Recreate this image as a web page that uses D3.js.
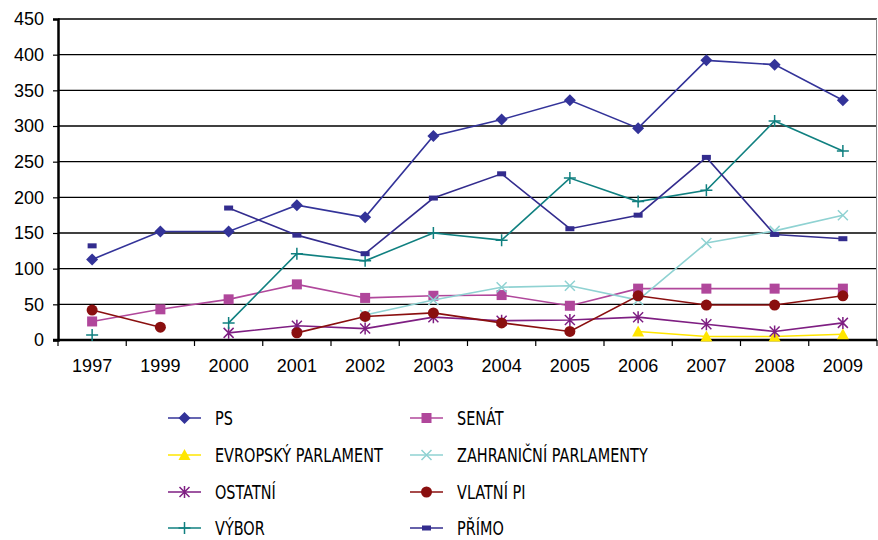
<!DOCTYPE html>
<html>
<head>
<meta charset="utf-8">
<script src="https://cdn.jsdelivr.net/npm/d3@7"></script>
<style>
  body { margin: 0; background: #fff; }
  svg { display: block; }
  .axis text { font-family: "Liberation Sans", Arial, sans-serif; font-size: 18px; fill: #000; }
  .legend text { font-family: "DejaVu Sans", sans-serif; font-size: 19px; fill: #000; }
</style>
</head>
<body>
<svg id="chart"></svg>
<script>
// line chart with markers, years on x, counts on y

var width = 878;
var height = 540;

// DATA (null = no value that year)
var years = ["1997", "1999", "2000", "2001", "2002", "2003", "2004", "2005", "2006", "2007", "2008", "2009"];
var yTicks = [0, 50, 100, 150, 200, 250, 300, 350, 400, 450];

var ps          = [113, 152, 152, 189, 172, 286, 309, 336, 297, 392, 386, 336];
var senat       = [26, 43, 57, 78, 59, 62, 63, 48, 72, 72, 72, 72];
var evropsky    = [null, null, null, null, null, null, null, null, 12, 5, 5, 8];
var zahranicni  = [null, null, null, null, 35, 56, 74, 76, 56, 136, 153, 175];
var ostatni     = [null, null, 10, 20, 16, 32, 27, 28, 32, 22, 12, 24];
var vlastni     = [42, 18, null, 10, 33, 38, 24, 12, 62, 49, 49, 62];
var vybor       = [7, null, 24, 121, 111, 150, 140, 227, 194, 210, 307, 265];
var primo       = [132, null, 185, 147, 121, 199, 233, 156, 175, 256, 148, 142];

// series in drawing order (later ones on top)
var series = [
    { name: "PS", values: ps, color: "#333399", marker: "diamond" },
    { name: "SENÁT", values: senat, color: "#b0479b", marker: "square" },
    { name: "EVROPSKÝ PARLAMENT", values: evropsky, color: "#ffe600", marker: "triangle" },
    { name: "ZAHRANIČNÍ PARLAMENTY", values: zahranicni, color: "#8fd2d2", marker: "x" },
    { name: "OSTATNÍ", values: ostatni, color: "#7e1e82", marker: "asterisk" },
    { name: "VLATNÍ PI", values: vlastni, color: "#8a0f0f", marker: "circle" },
    { name: "VÝBOR", values: vybor, color: "#108080", marker: "plus" },
    { name: "PŘÍMO", values: primo, color: "#332c8e", marker: "dash" }
];

// plot area
var plot = { left: 58, right: 877, top: 19, bottom: 340 };

var svg = d3.select("#chart")
    .attr("width", width)
    .attr("height", height);

// SCALES
var x = d3.scaleBand()
    .domain(years)
    .range([plot.left, plot.right]);

var y = d3.scaleLinear()
    .domain([0, 450])
    .range([plot.bottom, plot.top]);

// GRID
svg.append("g").selectAll("line")
    .data(yTicks.filter(d => d > 0))
    .enter().append("line")
    .attr("x1", plot.left)
    .attr("x2", plot.right)
    .attr("y1", d => y(d))
    .attr("y2", d => y(d))
    .style("stroke", "#000")
    .style("stroke-width", "1.4px");

// right border
svg.append("line")
    .attr("x1", plot.right - 0.5).attr("x2", plot.right - 0.5)
    .attr("y1", y(450)).attr("y2", y(0))
    .style("stroke", "#888").style("stroke-width", "1px");

// AXES
var yAxis = svg.append("g")
    .attr("class", "axis")
    .attr("transform", "translate(" + plot.left + ",0)")
    .call(d3.axisLeft(y).tickValues(yTicks).tickSize(5).tickPadding(9));
yAxis.select(".domain").style("stroke-width", "2.5px");
yAxis.selectAll(".tick line").style("stroke-width", "1.2px");

var xAxis = svg.append("g")
    .attr("class", "axis")
    .attr("transform", "translate(0," + plot.bottom + ")")
    .call(d3.axisBottom(x).tickSize(0).tickPadding(19));
xAxis.select(".domain").remove();

svg.append("line")
    .attr("x1", plot.left - 5).attr("x2", plot.right)
    .attr("y1", y(0)).attr("y2", y(0))
    .style("stroke", "#000").style("stroke-width", "2.5px");

// tick marks at category boundaries
svg.append("g").selectAll("line")
    .data(years.concat(["end"]))
    .enter().append("line")
    .attr("x1", d => d === "end" ? plot.right : x(d))
    .attr("x2", d => d === "end" ? plot.right : x(d))
    .attr("y1", y(0))
    .attr("y2", y(0) + 6)
    .style("stroke", "#000")
    .style("stroke-width", "1.2px");

// MARKERS
function drawMarker(g, type, color, cx, cy) {
    var s = 5;
    if (type === "diamond") {
        g.append("path").attr("d", "M" + cx + "," + (cy - 6) + "L" + (cx + 6) + "," + cy + "L" + cx + "," + (cy + 6) + "L" + (cx - 6) + "," + cy + "Z")
            .style("fill", color);
    } else if (type === "square") {
        g.append("rect").attr("x", cx - s).attr("y", cy - s).attr("width", 2 * s).attr("height", 2 * s)
            .style("fill", color);
    } else if (type === "triangle") {
        g.append("path").attr("d", "M" + cx + "," + (cy - 6) + "L" + (cx + 6) + "," + (cy + 5) + "L" + (cx - 6) + "," + (cy + 5) + "Z")
            .style("fill", color);
    } else if (type === "circle") {
        g.append("circle").attr("cx", cx).attr("cy", cy).attr("r", 5.5).style("fill", color);
    } else if (type === "x") {
        g.append("path").attr("d", "M" + (cx - s) + "," + (cy - s) + "L" + (cx + s) + "," + (cy + s) + "M" + (cx + s) + "," + (cy - s) + "L" + (cx - s) + "," + (cy + s))
            .style("stroke", color).style("stroke-width", "1.5px");
    } else if (type === "asterisk") {
        g.append("path").attr("d", "M" + (cx - s) + "," + (cy - s) + "L" + (cx + s) + "," + (cy + s) + "M" + (cx + s) + "," + (cy - s) + "L" + (cx - s) + "," + (cy + s) + "M" + cx + "," + (cy - 6) + "L" + cx + "," + (cy + 6))
            .style("stroke", color).style("stroke-width", "1.5px");
    } else if (type === "plus") {
        g.append("path").attr("d", "M" + (cx - 6) + "," + cy + "L" + (cx + 6) + "," + cy + "M" + cx + "," + (cy - 6) + "L" + cx + "," + (cy + 6))
            .style("stroke", color).style("stroke-width", "1.5px");
    } else if (type === "dash") {
        g.append("rect").attr("x", cx - 4.5).attr("y", cy - 2.5).attr("width", 9).attr("height", 5)
            .style("fill", color);
    }
}

// LINES
var line = d3.line()
    .defined(d => d.v !== null)
    .x(d => x(d.year) + x.bandwidth() / 2)
    .y(d => y(d.v));

series.forEach(function(s) {
    var pts = years.map((yr, i) => ({ year: yr, v: s.values[i] }));
    var g = svg.append("g");
    g.append("path")
        .datum(pts)
        .attr("d", line)
        .style("fill", "none")
        .style("stroke", s.color)
        .style("stroke-width", "1.6px");
    pts.filter(d => d.v !== null).forEach(function(d) {
        drawMarker(g, s.marker, s.color, x(d.year) + x.bandwidth() / 2, y(d.v));
    });
});

// LEGEND
var legend = svg.append("g").attr("class", "legend");
var legCols = [168, 410];
var legRows = [418, 455, 492, 528];

series.forEach(function(s, i) {
    var lx = legCols[i % 2];
    var ly = legRows[Math.floor(i / 2)];
    var g = legend.append("g");
    g.append("line")
        .attr("x1", lx).attr("x2", lx + 33)
        .attr("y1", ly).attr("y2", ly)
        .style("stroke", s.color)
        .style("stroke-width", "1.6px");
    drawMarker(g, s.marker, s.color, lx + 16.5, ly);
    var t = g.append("text")
        .attr("x", lx + 47)
        .attr("y", ly)
        .attr("dy", "0.36em")
        .text(s.name);
    // squeeze to a condensed look
    var w = t.node().getComputedTextLength();
    t.attr("textLength", w * 0.76).attr("lengthAdjust", "spacingAndGlyphs");
});
</script>
</body>
</html>
